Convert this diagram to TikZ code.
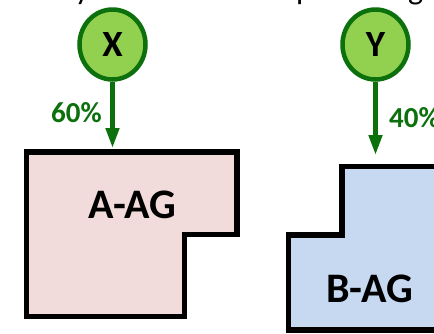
\documentclass[tikz,border=0pt]{standalone}
\usepackage{fontspec}
\setmainfont{Carlito}
\usetikzlibrary{arrows.meta,shapes.geometric}

\begin{document}
\begin{tikzpicture}[x=1pt,y=-1pt,>={Triangle[length=20pt,width=13pt]}]
\tikzset{
  owner/.style={ellipse, draw=ownergreen, fill=ownerlight, line width=4.5pt, minimum width=66pt, minimum height=70pt, inner sep=0pt, font=\fontsize{37}{37}\selectfont\bfseries},
  share/.style={->, draw=ownergreen, line width=4.5pt},
  pct/.style={text=ownergreen, font=\fontsize{29}{29}\selectfont\bfseries, inner sep=0pt},
  parcel/.style={draw=black, line width=5.3pt},
  tag/.style={font=\fontsize{42}{42}\selectfont\bfseries, inner sep=0pt},
  cut/.style={font=\fontsize{32}{32}\selectfont, inner sep=0pt, anchor=base west}
}

\definecolor{ownergreen}{RGB}{12,112,12}
\definecolor{ownerlight}{RGB}{146,208,80}
\definecolor{pinkfill}{RGB}{242,220,219}
\definecolor{bluefill}{RGB}{198,217,241}

\useasboundingbox (0,0) rectangle (434,333);
\clip (0,0) rectangle (434,333);

% clipped line of text above
\node[cut] (cuty) at (75,-1) {y};
\node[cut] (cutp) at (296,-1) {p};
\node[cut] (cutg) at (408,-1) {g};

% parcels
\draw[parcel, fill=pinkfill] (26.7,152) -- (237,152) -- (237,234.7) -- (184.3,234.7)
  -- (184.3,316.7) -- (26.7,316.7) -- cycle;
\draw[parcel, fill=bluefill] (342,166.7) -- (450,166.7) -- (450,330) -- (288.7,330)
  -- (288.7,235) -- (342,235) -- cycle;
\node[tag] (aag) at (132.5,204.5) {A-AG};
\node[tag] (bag) at (369.5,289) {B-AG};

% owners
\node[owner] (x) at (112.5,44.5) {X};
\node[owner] (y) at (375.5,44.5) {Y};
\coordinate (xtip) at (112.5,148);
\coordinate (ytip) at (375.5,155);
\draw[share] (x) -- (xtip);
\draw[share] (y) -- (ytip);
\node[pct] (xpct) at (76.5,113) {60\%};
\node[pct, anchor=west] (ypct) at (389,117.5) {40\%};
\end{tikzpicture}
\end{document}
